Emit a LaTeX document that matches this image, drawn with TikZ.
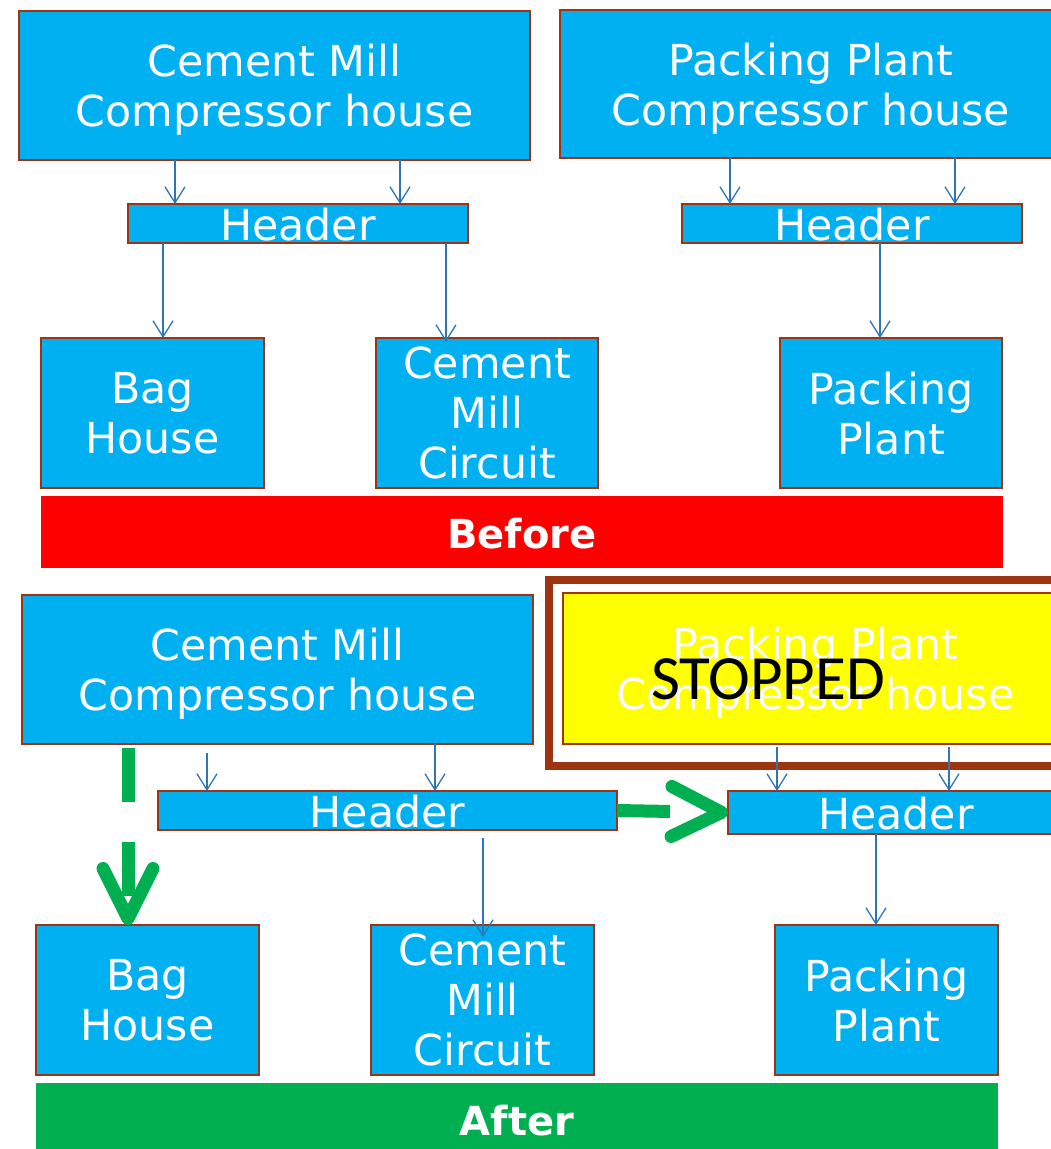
\documentclass[tikz,border=0pt]{standalone}
\usepackage{fontspec}
\newfontfamily\boxfont{DejaVu Sans}
\newfontfamily\stopfont{Carlito}
\usetikzlibrary{arrows.meta}
\definecolor{boxblue}{RGB}{0,176,240}
\definecolor{boxbrown}{RGB}{158,52,18}
\definecolor{lineblue}{RGB}{46,117,182}
\definecolor{barred}{RGB}{255,0,0}
\definecolor{bargreen}{RGB}{0,176,80}
\definecolor{stopyellow}{RGB}{255,255,0}
\begin{document}
\begin{tikzpicture}[x=1pt,y=-1pt,
  box/.style={draw=boxbrown, line width=2.5pt, fill=boxblue, text=white, text depth=0pt,
    font=\boxfont\fontsize{42.7}{50}\selectfont, align=center, inner sep=0pt, outer sep=0pt},
  flow/.style={draw=lineblue, line width=1.3pt, -{Straight Barb[length=16pt,width=20pt]}},
  bar/.style={text=white, font=\boxfont\bfseries\fontsize{40}{48}\selectfont, inner sep=0pt, outer sep=0pt},
  garrow/.style={draw=bargreen, line width=13pt, line cap=butt,
    -{Straight Barb[length=50pt,width=50pt,round]}}
]
\useasboundingbox (0,0) rectangle (1051,1149);
\clip (0,0) rectangle (1051,1149);
\fill[white] (0,0) rectangle (1051,1149);

% ---------- Before ----------
\node[box, minimum width=511pt, minimum height=149pt] (cm1) at (274.5,85.5) {Cement Mill\\Compressor house};
\node[box, minimum width=502pt, minimum height=148pt] (pp1) at (811,84) {Packing Plant\\Compressor house};
\node[box, minimum width=340pt, minimum height=39pt] (h1) at (298,223.5) {\raisebox{-2pt}{Header}};
\node[box, minimum width=340pt, minimum height=39pt] (h2) at (852,223.5) {\raisebox{-2pt}{Header}};
\node[box, minimum width=223pt, minimum height=150pt] (bh1) at (152.5,413) {Bag\\House};
\node[box, minimum width=222pt, minimum height=150pt] (cmc1) at (487,413) {Cement\\Mill\\Circuit};
\node[box, minimum width=222pt, minimum height=150pt] (ppl1) at (891,413) {Packing\\Plant};
\node[bar, fill=barred, minimum width=962pt, minimum height=72pt] (before) at (522,532) {};
\node[bar] (beforetxt) at (522,534) {Before};

\coordinate (a1) at (175,0);
\coordinate (a2) at (400,0);
\coordinate (a3) at (730,0);
\coordinate (a4) at (955,0);
\coordinate (a5) at (163,0);
\coordinate (a6) at (446,0);
\coordinate (a7) at (880,0);
\draw[flow] (cm1.south -| a1) -- (h1.north -| a1);
\draw[flow] (cm1.south -| a2) -- (h1.north -| a2);
\draw[flow] (pp1.south -| a3) -- (h2.north -| a3);
\draw[flow] (pp1.south -| a4) -- (h2.north -| a4);
\draw[flow] (h1.south -| a5) -- (bh1.north -| a5);
\draw[flow] (h1.south -| a6) -- ([yshift=-4pt]cmc1.north -| a6);
\draw[flow] (h2.south -| a7) -- (ppl1.north -| a7);

% ---------- After ----------
\node[draw=boxbrown, line width=8pt, minimum width=560pt, minimum height=186pt, inner sep=0pt] (frame) at (829,673) {};
\node[box, fill=stopyellow, minimum width=505pt, minimum height=151pt] (pp2) at (815.5,668.5) {Packing Plant\\Compressor house};
\node[font=\stopfont\fontsize{63}{75}\selectfont, inner sep=0pt] (stop) at (768,679) {STOPPED};
\node[box, minimum width=511pt, minimum height=149pt] (cm2) at (277.5,669.5) {Cement Mill\\Compressor house};
\node[box, minimum width=459pt, minimum height=39pt] (h3) at (387.5,810.5) {\raisebox{-2pt}{Header}};
\node[box, minimum width=336pt, minimum height=43pt] (h4) at (896,812.5) {\raisebox{-2pt}{Header}};
\node[box, minimum width=223pt, minimum height=150pt] (bh2) at (147.5,1000) {Bag\\House};
\node[box, minimum width=223pt, minimum height=150pt] (cmc2) at (482.5,1000) {Cement\\Mill\\Circuit};
\node[box, minimum width=223pt, minimum height=150pt] (ppl2) at (886.5,1000) {Packing\\Plant};
\node[bar, fill=bargreen, minimum width=962pt, minimum height=78pt] (after) at (517,1122) {};
\node[bar] (aftertxt) at (517,1121) {After};

\coordinate (b1) at (207,0);
\coordinate (b2) at (435,0);
\coordinate (b3) at (777,0);
\coordinate (b4) at (949,0);
\coordinate (b5) at (483,0);
\coordinate (b6) at (876,0);
\draw[flow] ([yshift=-9pt]cm2.south -| b1) -- (h3.north -| b1);
\draw[flow] (cm2.south -| b2) -- (h3.north -| b2);
\draw[flow] ([yshift=-3pt]pp2.south -| b3) -- (h4.north -| b3);
\draw[flow] ([yshift=-3pt]pp2.south -| b4) -- (h4.north -| b4);
\draw[flow] ([yshift=-8pt]h3.south -| b5) -- ([yshift=-12pt]cmc2.north -| b5);
\draw[flow] (h4.south -| b6) -- (ppl2.north -| b6);

% green re-route arrows
\coordinate (gs) at (128,748);
\draw[garrow, dash pattern=on 54pt off 40pt] (gs) -- (bh2.north -| gs);
\draw[garrow, dash pattern=on 53pt off 100pt] (h3.east) -- (h4.west);
\end{tikzpicture}
\end{document}
